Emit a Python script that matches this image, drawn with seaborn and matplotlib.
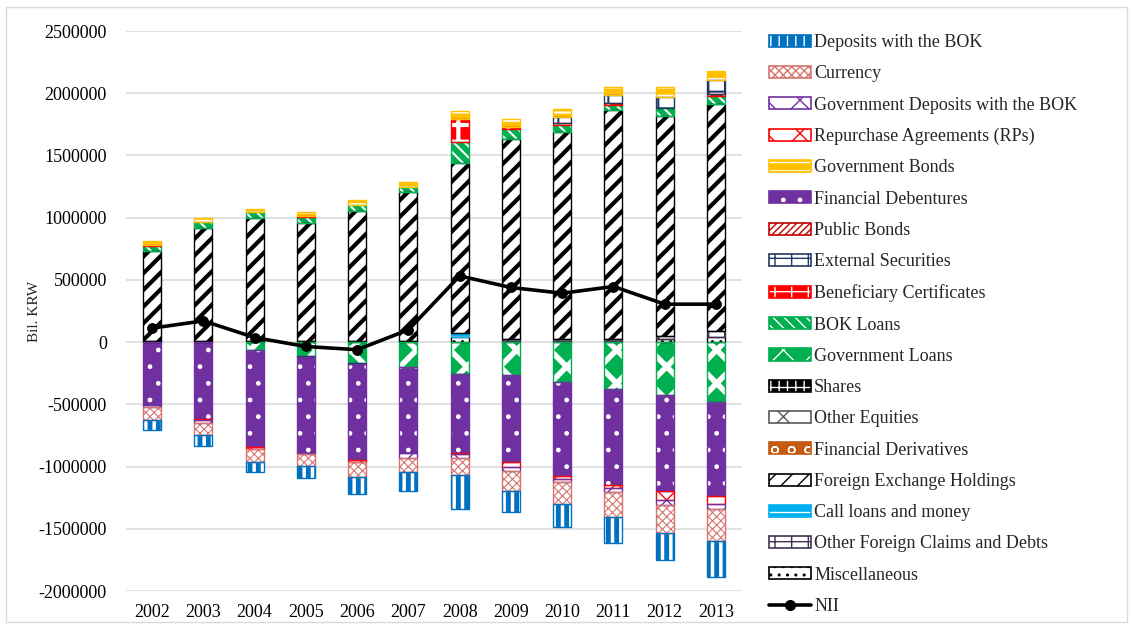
"""
Net interest income of the BOK by balance sheet item, 2002-2013
Stacked bars (positive and negative parts stacked apart) with the NII line on top
"""

import numpy as np
import matplotlib
matplotlib.use('Agg')
import matplotlib.pyplot as plt
from matplotlib.patches import Patch, Rectangle
from matplotlib.lines import Line2D
import seaborn as sns

# Data (Bil. KRW)
years = ['2002', '2003', '2004', '2005', '2006', '2007',
         '2008', '2009', '2010', '2011', '2012', '2013']

deposits_bok = [-86000, -91000, -83000, -98000, -133000, -155000,
                -270000, -171000, -187000, -208000, -222000, -289000]
currency = [-99000, -96000, -105000, -100000, -123000, -115000,
            -140000, -160000, -176000, -201000, -227000, -259000]
gov_deposits = [-19000, -22000, 0, 0, 0, -40000,
                -27000, -30000, -30000, -34000, -40000, -38000]
repurchase = [0, -13000, -13000, 0, -11000, 0,
              -10000, -42000, -24000, -22000, -72000, -69000]
gov_bonds = [30000, 30000, 25000, 30000, 40000, 45000,
             59000, 67000, 67000, 62000, 80000, 69000]
fin_debentures = [-505000, -615000, -781000, -775000, -776000, -690000,
                  -631000, -696000, -751000, -773000, -768000, -749000]
public_bonds = [0, 0, 0, 0, 0, 0, 0, 0, 0, 0, 0, 0]
external_sec = [0, 0, 0, -6000, -6000, 0,
                -6000, 0, 53000, 66000, 88000, 113000]
beneficiary = [6000, 0, 0, 10000, 0, 0,
               187000, 21000, 14000, 14000, 0, 21000]
bok_loans = [40000, 53000, 48000, 43000, 48000, 40000,
             169000, 73000, 58000, 45000, 62000, 59000]
gov_loans = [0, 0, -61000, -115000, -168000, -200000,
             -254000, -267000, -321000, -374000, -425000, -484000]
shares = [0] * 12
other_equities = [0] * 12
fin_derivatives = [0] * 12
fx_holdings = [723000, 903000, 983000, 948000, 1042000, 1191000,
               1369000, 1609000, 1658000, 1837000, 1774000, 1827000]
call_loans = [0, 0, 0, 0, 0, 0, 27000, 0, 0, 0, 0, 0]
other_foreign = [0, 0, 0, 0, 0, 0, 0, 15000, 15000, 15000, 22000, 50000]
miscellaneous = [12000, 12000, 12000, 12000, 12000, 12000,
                 45000, 12000, 12000, 12000, 25000, 40000]
nii = [112000, 171000, 37000, -35000, -61000, 99000,
       532000, 439000, 393000, 447000, 305000, 305000]

# label, values, face colour, hatch colour, border colour, hatch, hatch width
series = [
    ('Deposits with the BOK', deposits_bok, '#0070C0', 'white', '#0070C0', '||', 2.5),
    ('Currency', currency, 'white', '#D6746F', '#D6746F', 'xxxx', 0.8),
    ('Government Deposits with the BOK', gov_deposits, 'white', '#7030A0', '#7030A0', 'x', 1.0),
    ('Repurchase Agreements (RPs)', repurchase, 'white', '#FF0000', '#FF0000', 'x', 1.0),
    ('Government Bonds', gov_bonds, '#FFC000', 'white', '#FFC000', '--', 1.5),
    ('Financial Debentures', fin_debentures, '#7030A0', 'white', '#7030A0', '.', 1.0),
    ('Public Bonds', public_bonds, 'white', '#C00000', '#C00000', '/////', 1.0),
    ('External Securities', external_sec, 'white', '#203864', '#203864', '+', 1.5),
    ('Beneficiary Certificates', beneficiary, '#FF0000', 'white', '#FF0000', '+', 3.0),
    ('BOK Loans', bok_loans, '#00B050', 'white', '#00B050', '\\\\\\', 1.5),
    ('Government Loans', gov_loans, '#00B050', 'white', '#00B050', 'x', 4.0),
    ('Shares', shares, 'black', 'white', 'black', '++', 1.5),
    ('Other Equities', other_equities, 'white', '#595959', '#595959', 'x', 1.0),
    ('Financial Derivatives', fin_derivatives, '#C55A11', 'white', '#C55A11', 'o', 1.0),
    ('Foreign Exchange Holdings', fx_holdings, 'white', 'black', 'black', '//', 3.0),
    ('Call loans and money', call_loans, '#00B0F0', 'white', '#00B0F0', '--', 1.5),
    ('Other Foreign Claims and Debts', other_foreign, 'white', '#403151', '#403151', '+', 1.5),
    ('Miscellaneous', miscellaneous, 'white', 'black', 'black', '..', 1.0),
]

sns.set_theme(style='white')
plt.rcParams['font.family'] = ['Liberation Serif', 'DejaVu Serif']

fig = plt.figure(figsize=(11.34, 6.28), dpi=100)
ax = fig.add_axes([0.1115, 0.0589, 0.5425, 0.8917])

x = np.arange(len(years))
bar_w = 0.35
pos_base = np.zeros(len(years))
neg_base = np.zeros(len(years))
handles = []

# Excel stacks the last series closest to zero
for label, vals, face, hcol, bcol, hatch, hlw in reversed(series):
    vals = np.array(vals, dtype=float)
    bottom = np.where(vals >= 0, pos_base, neg_base)
    keep = vals != 0
    with plt.rc_context({'hatch.linewidth': hlw}):
        if keep.any():
            ax.bar(x[keep], vals[keep], bottom=bottom[keep], width=bar_w,
                   color=face, edgecolor=hcol, hatch=hatch, linewidth=0, zorder=2)
            ax.bar(x[keep], vals[keep], bottom=bottom[keep], width=bar_w,
                   facecolor='none', edgecolor=bcol, linewidth=1.0, zorder=3)
        fill = Patch(facecolor=face, edgecolor=hcol, hatch=hatch, linewidth=0)
    edge = Patch(facecolor='none', edgecolor=bcol, linewidth=1.2)
    handles.insert(0, ((fill, edge), label))
    pos_base = pos_base + np.where(vals > 0, vals, 0)
    neg_base = neg_base + np.where(vals < 0, vals, 0)

sns.lineplot(x=x, y=nii, ax=ax, color='black', linewidth=2.6, marker='o',
             markersize=7, markeredgecolor='black', zorder=5)

ax.set_xlim(-0.5, len(years) - 0.5)
ax.set_ylim(-2000000, 2500000)
ax.set_yticks(np.arange(-2000000, 2500001, 500000))
ax.set_xticks(x)
ax.set_xticklabels(years)
ax.yaxis.set_major_formatter(matplotlib.ticker.FuncFormatter(lambda v, p: f'{int(v)}'))
ax.tick_params(axis='both', length=0, labelsize=13, colors='black')
ax.tick_params(axis='y', pad=14)
ax.tick_params(axis='x', pad=9)
ax.grid(axis='y', color='#D9D9D9', linewidth=1.1, zorder=0)
ax.set_axisbelow(True)
for s in ax.spines.values():
    s.set_visible(False)
ax.set_ylabel('Bil. KRW', fontsize=11, labelpad=4)
ax.yaxis.set_label_coords(-0.139, 0.5)

leg_handles = [h for h, _ in handles]
leg_labels = [l for _, l in handles]
leg_handles.append(Line2D([], [], color='black', linewidth=2.6, marker='o', markersize=7))
leg_labels.append('NII')

fig.legend(leg_handles, leg_labels, loc='upper left',
           bbox_to_anchor=(769 / 1134, 1 - 34 / 628), frameon=False,
           fontsize=13, handlelength=2.3, handleheight=0.65, handletextpad=0.2,
           labelspacing=0.79, borderaxespad=0, borderpad=0,
           handler_map={tuple: matplotlib.legend_handler.HandlerTuple(ndivide=1)})

# Excel chart-area border
fig.patches.append(Rectangle((6 / 1134, 6 / 628), 1 - 13 / 1134, 1 - 13 / 628,
                             transform=fig.transFigure, fill=False,
                             edgecolor='#D9D9D9', linewidth=1))

fig.savefig('out.png', dpi=100)
plt.close(fig)
